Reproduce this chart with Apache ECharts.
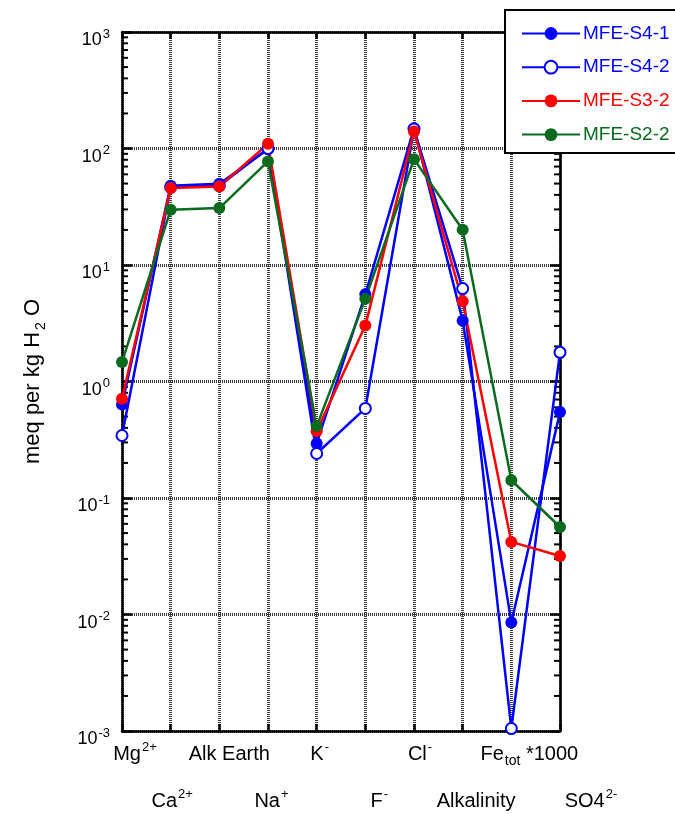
<!DOCTYPE html>
<html>
<head>
<meta charset="utf-8">
<script src="https://cdn.jsdelivr.net/npm/echarts@6/dist/echarts.min.js"></script>
<style>
  html, body { margin: 0; padding: 0; background: #fff; }
  #chart { width: 675px; height: 814px; }
</style>
</head>
<body>
<div id="chart"></div>
<script>
// Constituents along the x axis (rich-text markup for super/subscripts)
const categories = ['Mg2+', 'Ca2+', 'Alk Earth', 'Na+', 'K-', 'F-', 'Cl-', 'Alkalinity', 'Fe_tot*1000', 'SO4 2-'];
const categoryLabels = [
  'Mg{sup|2+}', 'Ca{sup|2+}', 'Alk Earth', 'Na{sup|+}', 'K{sup|-}',
  'F{sup|-}', 'Cl{sup|-}', 'Alkalinity', 'Fe{sub|tot} *1000', 'SO4{sup|2-}'
];

// Concentrations, meq per kg H2O
const mfeS4_1 = [0.635, 48, 49.8, 98.7, 0.294, 5.6, 149, 3.33, 0.00855, 0.546];
const mfeS4_2 = [0.344, 46.5, 48, 100, 0.241, 0.587, 147, 6.27, 0.00105, 1.78];
const mfeS3_2 = [0.71, 45.7, 47.2, 109.6, 0.375, 3.02, 140, 4.88, 0.042, 0.0318];
const mfeS2_2 = [1.47, 29.8, 30.8, 77.4, 0.414, 5.12, 81, 20.1, 0.142, 0.0564];

// Decade exponents spanned by the log axis
const yExponents = [-3, -2, -1, 0, 1, 2, 3];

const FONT = '"Liberation Sans", Arial, Helvetica, sans-serif';
const BLUE = '#0000ff', RED = '#ff0000', GREEN = '#0a6a1e';

// horizontal nudge of each category label (px, to the right)
const labelShift = [13, 1.5, 10, 3.5, 3, 14, 6, 13.5, 18, 31];

const labelRich = {
  t: { fontSize: 20, fontFamily: FONT, color: '#000', lineHeight: 24 },
  sup: { fontSize: 13, fontFamily: FONT, color: '#000', padding: [0, 0, 13, 1], lineHeight: 24 },
  sub: { fontSize: 14, fontFamily: FONT, color: '#000', padding: [15, 0, 0, 1], lineHeight: 24 }
};
labelShift.forEach((s, i) => { labelRich['g' + i] = { width: 2 * s, height: 1 }; });

function catLabel(idx) {
  const body = categoryLabels[idx].replace(/(^|\})([^{}]+)(?=\{|$)/g, (m, a, b) => a + '{t|' + b + '}');
  return '{g' + idx + '|}' + body;
}

function rowFormatter(parity) {
  return function (value, idx) {
    return idx % 2 === parity ? catLabel(idx) : '';
  };
}

// minor log ticks (2..9 within each decade)
const minorTicks = [];
for (let e = yExponents[0]; e < yExponents[yExponents.length - 1]; e++) {
  for (let m = 2; m <= 9; m++) minorTicks.push([0, m * Math.pow(10, e)]);
}

const gridLine = { show: true, lineStyle: { color: '#3a3a3a', width: 3, type: [1, 1] } };
const frameLine = { show: true, lineStyle: { color: '#000', width: 2.5 } };

function lineSeries(name, data, color, hollow) {
  return {
    name: name,
    type: 'line',
    data: data,
    xAxisIndex: 0,
    yAxisIndex: 0,
    symbol: hollow ? 'emptyCircle' : 'circle',
    symbolSize: hollow ? 11 : 12,
    showAllSymbol: true,
    lineStyle: { color: color, width: 2.5 },
    itemStyle: hollow ? { color: color, borderColor: color, borderWidth: 2.2 } : { color: color },
    emphasis: { disabled: true },
    z: 5
  };
}

const chart = echarts.init(document.getElementById('chart'), null, { renderer: 'canvas' });

chart.setOption({
  animation: false,
  backgroundColor: '#fff',
  grid: { left: 122, right: 115, top: 32, bottom: 82 },
  legend: {
    orient: 'vertical',
    left: 505,
    top: 10,
    padding: [14, 60, 9, 16],
    itemWidth: 58,
    itemHeight: 16,
    itemGap: 14.7,
    backgroundColor: '#fff',
    borderColor: '#000',
    borderWidth: 2,
    borderRadius: 0,
    z: 10,
    textStyle: { fontSize: 19, lineHeight: 16, fontFamily: FONT, padding: [0, 0, 0, -2] },
    data: [
      { name: 'MFE-S4-1', textStyle: { color: BLUE } },
      { name: 'MFE-S4-2', textStyle: { color: BLUE } },
      { name: 'MFE-S3-2', textStyle: { color: RED } },
      { name: 'MFE-S2-2', textStyle: { color: GREEN } }
    ]
  },
  xAxis: [
    {
      type: 'category', position: 'bottom', data: categories, boundaryGap: false,
      axisLine: frameLine,
      axisTick: { show: true, inside: true, length: 7, lineStyle: { color: '#000', width: 2.5 }, interval: 0 },
      splitLine: Object.assign({ interval: 0 }, gridLine),
      axisLabel: { interval: 0, margin: 11, formatter: rowFormatter(0), rich: labelRich }
    },
    {
      type: 'category', position: 'bottom', data: categories, boundaryGap: false,
      axisLine: { show: false }, axisTick: { show: false }, splitLine: { show: false },
      axisLabel: { interval: 0, margin: 58, formatter: rowFormatter(1), rich: labelRich }
    },
    {
      type: 'category', position: 'top', data: categories, boundaryGap: false,
      axisLine: frameLine,
      axisTick: { show: true, inside: true, length: 7, lineStyle: { color: '#000', width: 2.5 }, interval: 0 },
      splitLine: { show: false },
      axisLabel: { show: false }
    }
  ],
  yAxis: [
    {
      type: 'log', logBase: 10, position: 'left',
      min: Math.pow(10, yExponents[0]), max: Math.pow(10, yExponents[yExponents.length - 1]),
      axisLine: frameLine,
      axisTick: { show: true, inside: true, length: 10, lineStyle: { color: '#000', width: 2.5 } },
      splitLine: gridLine,
      axisLabel: {
        margin: 12,
        padding: [17, 0, 0, 0],
        formatter: function (v) {
          return '{b|10}{s|' + Math.round(Math.log10(v)) + '}';
        },
        rich: {
          b: { fontSize: 18, fontFamily: FONT, color: '#000' },
          s: { fontSize: 13, fontFamily: FONT, color: '#000', padding: [0, 0, 13, 1] }
        }
      },
      name: '{t|meq per kg H}{sub|2}{t| O}',
      nameLocation: 'middle',
      nameRotate: 90,
      nameGap: 74,
      nameTextStyle: {
        rich: {
          t: { fontSize: 22, fontFamily: FONT, color: '#000' },
          sub: { fontSize: 14, fontFamily: FONT, color: '#000', padding: [16, 0, 0, 2] }
        }
      }
    },
    {
      type: 'log', logBase: 10, position: 'right',
      min: Math.pow(10, yExponents[0]), max: Math.pow(10, yExponents[yExponents.length - 1]),
      axisLine: frameLine,
      axisTick: { show: true, inside: true, length: 10, lineStyle: { color: '#000', width: 2.5 } },
      splitLine: { show: false },
      axisLabel: { show: false }
    }
  ],
  series: [
    {
      type: 'custom',
      silent: true,
      xAxisIndex: 0,
      yAxisIndex: 0,
      data: minorTicks,
      z: 4,
      renderItem: function (params, api) {
        const cs = params.coordSys;
        const y = api.coord([0, api.value(1)])[1];
        const st = { stroke: '#000', lineWidth: 2 };
        return {
          type: 'group',
          children: [
            { type: 'line', shape: { x1: cs.x, y1: y, x2: cs.x + 6, y2: y }, style: st },
            { type: 'line', shape: { x1: cs.x + cs.width - 6, y1: y, x2: cs.x + cs.width, y2: y }, style: st }
          ]
        };
      }
    },
    lineSeries('MFE-S4-1', mfeS4_1, BLUE, false),
    lineSeries('MFE-S4-2', mfeS4_2, BLUE, true),
    lineSeries('MFE-S3-2', mfeS3_2, RED, false),
    lineSeries('MFE-S2-2', mfeS2_2, GREEN, false)
  ]
});
</script>
</body>
</html>
